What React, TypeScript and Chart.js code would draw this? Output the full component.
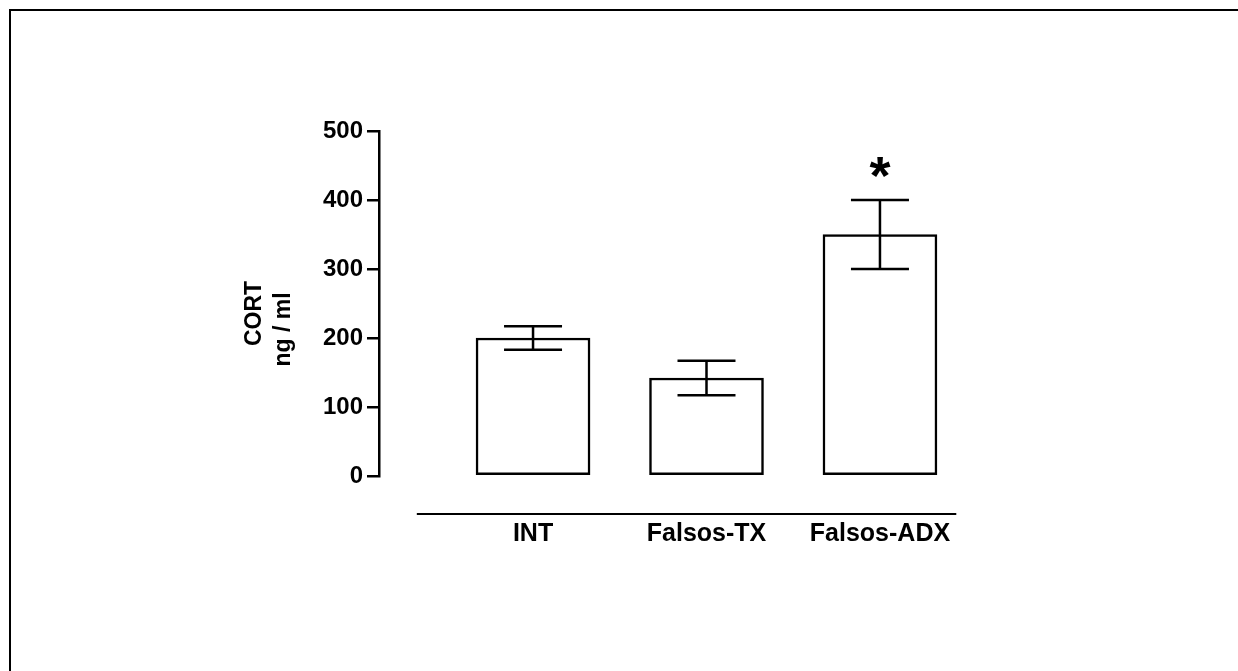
import React, { useEffect, useRef } from 'react';
import { Chart, registerables } from 'chart.js';

Chart.register(...registerables);

// Plasma corticosterone by group (mean ± SEM)
const groups = ['INT', 'Falsos-TX', 'Falsos-ADX'];
const cortMeans = [200, 142, 350];
const cortErrors = [17, 25, 50];
const significance = ['', '', '*'];
const yTicks = [0, 100, 200, 300, 400, 500];
const yTitleLines = ['CORT', 'ng / ml'];

const FONT = '"Liberation Sans", Arial, Helvetica, sans-serif';

// Error bars, significance marks, the detached category baseline and the y title
const annotationsPlugin = {
  id: 'cortAnnotations',
  afterDatasetsDraw(chart: any) {
    const { ctx, chartArea } = chart;
    const x = chart.scales.x;
    const y = chart.scales.y;
    ctx.save();
    ctx.strokeStyle = '#000';
    ctx.fillStyle = '#000';
    ctx.lineCap = 'butt';

    cortMeans.forEach((mean, i) => {
      const cx = x.getPixelForValue(i + 1);
      const hi = y.getPixelForValue(mean + cortErrors[i]);
      const lo = y.getPixelForValue(mean - cortErrors[i]);
      const half = 29;
      ctx.lineWidth = 2.5;
      ctx.beginPath();
      ctx.moveTo(cx, hi);
      ctx.lineTo(cx, lo);
      ctx.moveTo(cx - half, hi);
      ctx.lineTo(cx + half, hi);
      ctx.moveTo(cx - half, lo);
      ctx.lineTo(cx + half, lo);
      ctx.stroke();
      if (significance[i]) {
        ctx.font = `bold 54px ${FONT}`;
        ctx.textAlign = 'center';
        ctx.textBaseline = 'alphabetic';
        ctx.fillText(significance[i], cx, hi - 6);
      }
    });

    // category baseline, set below the value axis
    const baseY = chartArea.bottom + 38;
    ctx.lineWidth = 2;
    ctx.beginPath();
    ctx.moveTo(x.getPixelForValue(0.33), baseY);
    ctx.lineTo(x.getPixelForValue(3.44), baseY);
    ctx.stroke();

    // rotated two-line y title
    const midY = (chartArea.top + chartArea.bottom) / 2;
    ctx.font = `bold 23px ${FONT}`;
    ctx.textAlign = 'center';
    ctx.textBaseline = 'middle';
    const titleX = [chartArea.left - 124, chartArea.left - 95];
    const titleY = [midY + 10, midY + 26];
    yTitleLines.forEach((line, i) => {
      ctx.save();
      ctx.translate(titleX[i], titleY[i]);
      ctx.rotate(-Math.PI / 2);
      ctx.fillText(line, 0, 0);
      ctx.restore();
    });
    ctx.restore();
  },
};

export default function App() {
  const canvasRef = useRef<HTMLCanvasElement | null>(null);

  useEffect(() => {
    const canvas = canvasRef.current;
    if (!canvas) return;
    const chart = new Chart(canvas, {
      type: 'bar',
      data: {
        datasets: [
          {
            data: cortMeans.map((v, i) => ({ x: i + 1, y: v })),
            backgroundColor: '#fff',
            borderColor: '#000',
            borderWidth: 2.5,
            borderSkipped: false,
            barThickness: 114,
          },
        ],
      },
      options: {
        responsive: false,
        animation: false,
        layout: { padding: { left: 240, top: 131, right: 238, bottom: 115 } },
        plugins: {
          legend: { display: false },
          tooltip: { enabled: false },
        },
        scales: {
          x: {
            type: 'linear',
            offset: false,
            min: 0.112,
            max: 3.692,
            afterBuildTicks: (s: any) => {
              s.ticks = groups.map((_, i) => ({ value: i + 1 }));
            },
            afterFit: (s: any) => {
              s.height = 80;
            },
            ticks: {
              callback: (_v: any, i: number) => groups[i] ?? '',
              color: '#000',
              font: { family: FONT, size: 25, weight: 'bold' },
              padding: 43,
              autoSkip: false,
              maxRotation: 0,
            },
            grid: { display: false, drawTicks: false },
            border: { display: false },
          },
          y: {
            min: 0,
            max: 500,
            afterBuildTicks: (s: any) => {
              s.ticks = yTicks.map((v) => ({ value: v }));
            },
            afterFit: (s: any) => {
              s.width = 139;
            },
            ticks: {
              color: '#000',
              font: { family: FONT, size: 24, weight: 'bold' },
              padding: 4,
            },
            grid: {
              display: true,
              drawOnChartArea: false,
              drawTicks: true,
              tickLength: 12,
              color: '#000',
              lineWidth: 2.5,
            },
            border: { display: true, color: '#000', width: 2.5 },
          },
        },
      },
      plugins: [annotationsPlugin],
    });
    return () => chart.destroy();
  }, []);

  return (
    <div
      style={{
        position: 'fixed',
        left: 0,
        top: 0,
        width: 1238,
        height: 671,
        background: '#fff',
        overflow: 'hidden',
      }}
    >
      <div
        style={{
          position: 'absolute',
          left: 9,
          top: 9,
          width: 1260,
          height: 700,
          borderTop: '2px solid #000',
          borderLeft: '2px solid #000',
        }}
      />
      <canvas
        ref={canvasRef}
        width={1238}
        height={671}
        style={{ position: 'absolute', left: 0, top: 0, width: 1238, height: 671 }}
      />
    </div>
  );
}
